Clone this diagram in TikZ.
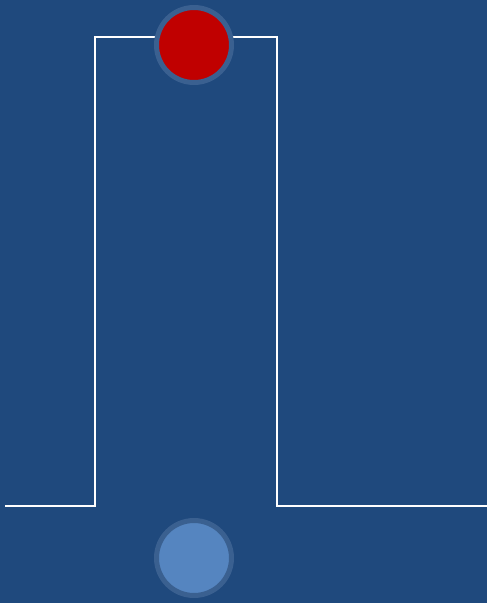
\documentclass[tikz,border=0pt]{standalone}
\definecolor{bg}{HTML}{1F497D}
\definecolor{ring}{HTML}{3A6090}
\definecolor{redc}{HTML}{C00000}
\definecolor{bluec}{HTML}{5585C0}
\begin{document}
\begin{tikzpicture}[x=1pt,y=-1pt,
  dot/.style={circle,draw=ring,line width=5pt,minimum size=75pt,inner sep=0pt},
  wire/.style={draw=white,line width=2.5pt}]
\fill[bg] (0,0) rectangle (487,603);
\useasboundingbox (0,0) rectangle (487,603);
\coordinate (l0) at (5,506);
\coordinate (l1) at (95,506);
\coordinate (l2) at (95,37);
\coordinate (r2) at (277,37);
\coordinate (r1) at (277,506);
\coordinate (r0) at (487,506);
\draw[wire] (l0) -- (l1) -- (l2) -- (r2) -- (r1) -- (r0);
\node[dot,fill=redc] (top) at (194,45) {};
\node[dot,fill=bluec] (bot) at (194,558) {};
\end{tikzpicture}
\end{document}
